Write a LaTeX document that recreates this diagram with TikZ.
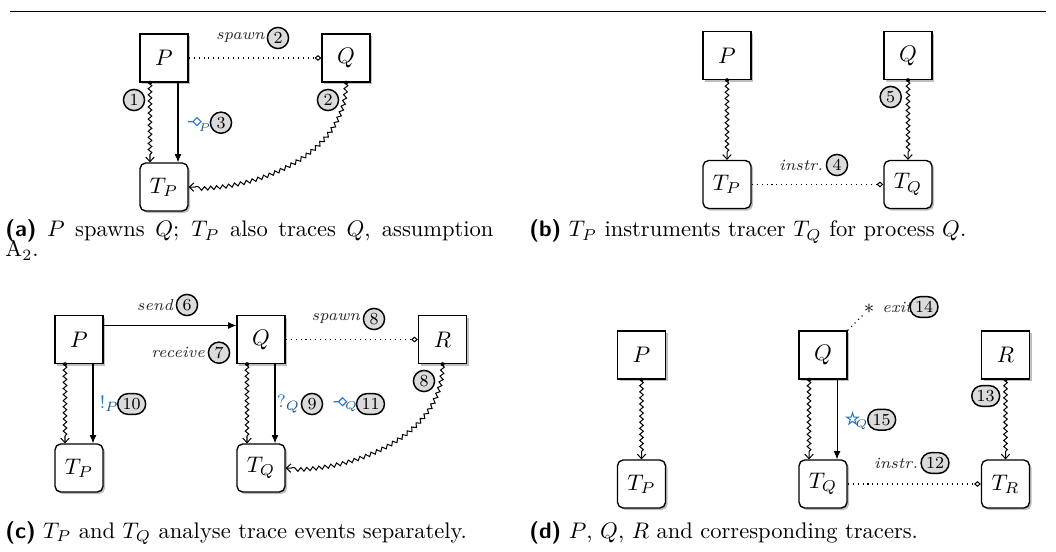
\documentclass[tikz,border=0pt]{standalone}
\usetikzlibrary{arrows.meta,decorations.pathmorphing,shadows,shapes.geometric,shapes.misc,calc}
\definecolor{evblue}{RGB}{38,120,200}
\definecolor{numgray}{gray}{0.86}
\newcommand{\capl}[1]{{\sffamily\bfseries(#1)}}
\tikzset{
  proc/.style={draw, line width=0.6pt, minimum size=21.3pt, inner sep=0pt, fill=white,
    general shadow={fill=black!25, shadow xshift=0.9pt, shadow yshift=-0.9pt}},
  tracer/.style={proc, rounded corners=2.5pt},
  num/.style={circle, draw, line width=0.65pt, fill=numgray, font=\fontsize{7.5}{8}\selectfont, inner sep=0pt, minimum size=9.4pt},
  numw/.style={rounded rectangle, draw, line width=0.65pt, fill=numgray, font=\fontsize{7.5}{8}\selectfont, inner sep=0pt, minimum height=9.2pt, minimum width=12.4pt},
  lbl/.style={font=\scriptsize\itshape, text=black!85, inner sep=0pt},
  wavy/.style={decorate, decoration={snake, amplitude=0.8pt, segment length=2.7pt, post length=2.5pt, pre length=0.5pt},
    line width=0.45pt, -{Straight Barb[length=2pt,width=3.8pt]}},
  solidarr/.style={line width=0.45pt, -{Latex[length=3.6pt,width=3pt]}},
  dotline/.style={line width=0.5pt, dash pattern=on 0.45pt off 1.75pt, -{Diamond[open,length=3pt,width=2.6pt,line width=0.45pt]}},
  capt/.style={anchor=base west, inner sep=0pt, font=\normalsize},
  spawnsym/.pic={\draw[evblue, line width=0.5pt] (-9,0) -- (-4,0) (-4,0) -- (0,-4) -- (4,0) -- (0,4) -- cycle;},
  evsub/.style={inner sep=0pt, text=evblue!70!black, font=\tiny},
  evsym/.style={inner sep=0pt, text=evblue, font=\footnotesize},
}
\begin{document}
\begin{tikzpicture}[x=0.444pt,y=-0.444pt]
\useasboundingbox (0,0) rectangle (1056,552);
\draw[line width=0.55pt] (10,11.5) -- (1046,11.5);

% ---------------- (a)
\node[proc] (aP) at (164,58) {$P$};
\node[proc] (aQ) at (346,58) {$Q$};
\node[tracer] (aTP) at (164,187) {$T_P$};
\draw[dotline] (aP.east) -- (aQ.west);
\node[lbl, anchor=east] (aspl) at (265,38) {spawn};
\node[num] (an2a) at (278,38) {2};
\fill ($(aP.south)+(-14,0)$) circle (2);
\draw[wavy] ($(aP.south)+(-14,0)$) -- ($(aTP.north)+(-14,0)$);
\draw[solidarr] ($(aP.south)+(14,0)$) -- ($(aTP.north)+(14,0)$);
\node[num] (an1) at (134,100) {1};
\pic at (197,121.7) {spawnsym};
\node[evsub] (asubP) at (204.5,127.5) {$P$};
\node[num] (an3) at (221,122.7) {3};
\fill (aQ.south) circle (2);
\draw[wavy] (aQ.south) to[out=-90,in=-2,looseness=0.95] (aTP.east);
\node[num] (an2b) at (328,100) {2};
\node[capt] (acap) at (5,237) {\makebox[216.7pt][s]{\capl{a} $P$ spawns $Q$; $T_P$ also traces $Q$, assumption}};
\node[capt] (acap2) at (5,257) {A$_2$.};

% ---------------- (b)
\node[proc] (bP) at (727,55.5) {$P$};
\node[proc] (bQ) at (908,55.5) {$Q$};
\node[tracer] (bTP) at (727,184.5) {$T_P$};
\node[tracer] (bTQ) at (908,184.5) {$T_Q$};
\fill (bP.south) circle (2);
\draw[wavy] (bP.south) -- (bTP.north);
\fill (bQ.south) circle (2);
\draw[wavy] (bQ.south) -- (bTQ.north);
\node[num] (bn5) at (890.7,97) {5};
\draw[dotline] (bTP.east) -- (bTQ.west);
\node[lbl, anchor=east] (binl) at (823.5,165) {instr.};
\node[num] (bn4) at (837,165) {4};
\node[capt] (bcap) at (529,237) {\capl{b} $T_P$ instruments tracer $T_Q$ for process $Q$.};

% ---------------- (c)
\node[proc] (cP) at (79,339.5) {$P$};
\node[proc] (cQ) at (261,339.5) {$Q$};
\node[proc] (cR) at (442.5,339.5) {$R$};
\node[tracer] (cTP) at (79,468) {$T_P$};
\node[tracer] (cTQ) at (261,468) {$T_Q$};
\draw[solidarr] ($(cP.east)+(0,-14)$) -- ($(cQ.west)+(0,-14)$);
\node[lbl, anchor=east] (csendl) at (173.5,305) {send};
\node[num] (cn6) at (187,305) {6};
\node[lbl, anchor=east] (crecl) at (205.5,352.7) {receive};
\node[num] (cn7) at (219,352.7) {7};
\draw[dotline] (cQ.east) -- (cR.west);
\node[lbl, anchor=east] (cspl) at (360.5,319) {spawn};
\node[num] (cn8a) at (374,319) {8};
\fill ($(cP.south)+(-14,0)$) circle (2);
\draw[wavy] ($(cP.south)+(-14,0)$) -- ($(cTP.north)+(-14,0)$);
\draw[solidarr] ($(cP.south)+(14,0)$) -- ($(cTP.north)+(14,0)$);
\node[evsym, anchor=east] (cexc) at (119.5,404) {$!_{\color{evblue!70!black}P}$};
\node[numw] (cn10) at (131.7,404) {10};
\fill ($(cQ.south)+(-14,0)$) circle (2);
\draw[wavy] ($(cQ.south)+(-14,0)$) -- ($(cTQ.north)+(-14,0)$);
\draw[solidarr] ($(cQ.south)+(14,0)$) -- ($(cTQ.north)+(14,0)$);
\node[evsym, anchor=east] (cque) at (300.5,404) {$?_{\color{evblue!70!black}Q}$};
\node[num] (cn9) at (312,404) {9};
\pic at (342.5,401.7) {spawnsym};
\node[evsub] (csubQb) at (351,407) {$Q$};
\node[numw] (cn11) at (370.5,404) {11};
\fill (cR.south) circle (2);
\draw[wavy] (cR.south) to[out=-90,in=-2,looseness=0.95] (cTQ.east);
\node[num] (cn8b) at (424,381) {8};
\node[capt] (ccap) at (5,538) {\capl{c} $T_P$ and $T_Q$ analyse trace events separately.};

% ---------------- (d)
\node[proc] (dP) at (641.5,355) {$P$};
\node[proc] (dQ) at (823,355) {$Q$};
\node[proc] (dR) at (1005.5,355) {$R$};
\node[tracer] (dTP) at (641.5,484) {$T_P$};
\node[tracer] (dTQ) at (823,484) {$T_Q$};
\node[tracer] (dTR) at (1005.5,484) {$T_R$};
\fill (dP.south) circle (2);
\draw[wavy] (dP.south) -- (dTP.north);
\fill ($(dQ.south)+(-14,0)$) circle (2);
\draw[wavy] ($(dQ.south)+(-14,0)$) -- ($(dTQ.north)+(-14,0)$);
\draw[solidarr] ($(dQ.south)+(14,0)$) -- ($(dTQ.north)+(14,0)$);
\node[star, star points=5, star point ratio=2.6, draw=evblue, line width=0.45pt, minimum size=5.5pt, inner sep=0pt] (dstar) at (852.5,419) {};
\node[evsub] (dsubQ) at (861.5,424.5) {$Q$};
\node[numw] (dn15) at (881.7,419.7) {15};
\fill (dR.south) circle (2);
\draw[wavy] (dR.south) -- (dTR.north);
\node[numw] (dn13) at (985.7,396) {13};
\draw[dotline] (dTQ.east) -- (dTR.west);
\node[lbl, anchor=east] (dinl) at (918.5,463) {instr.};
\node[numw] (dn12) at (935,463) {12};
\node[inner sep=0pt, font=\small] (dex) at (869,309) {$\ast$};
\draw[line width=0.5pt, dash pattern=on 0.45pt off 1.75pt] (dQ.north east) -- (dex);
\node[lbl, anchor=west] (dexl) at (882,307) {exit};
\node[numw] (dn14) at (924,307) {14};
\node[capt] (dcap) at (529,538) {\capl{d} $P$, $Q$, $R$ and corresponding tracers.};
\end{tikzpicture}
\end{document}
